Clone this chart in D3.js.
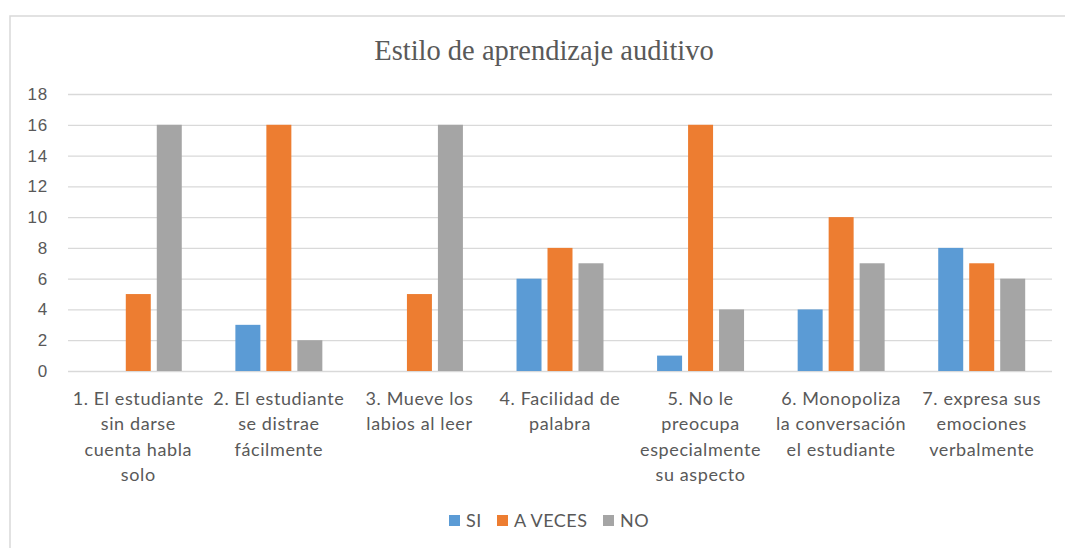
<!DOCTYPE html>
<html>
    <head>
        <meta charset="utf-8">
        <title>Estilo de aprendizaje auditivo</title>
        <style>
            html, body {
                margin: 0px;
                padding: 0px;
                background-color: #fff;
                font-family: Lato, "Open Sans", sans-serif;
            }

            svg text {
                fill: #595959;
            }

            .title {
                font-family: "Liberation Serif", "Times New Roman", serif;
                font-size: 28.5px;
            }

            .verticalAxis text {
                font-size: 17px;
                letter-spacing: 0.8px;
            }

            .verticalAxis .domain {
                stroke: none;
            }

            .verticalAxis line {
                stroke: #d9d9d9;
                stroke-width: 1.3;
            }

            .categoryLabel {
                font-size: 18px;
                letter-spacing: 0.6px;
            }

            .legend text {
                font-size: 18px;
                letter-spacing: 0.5px;
            }
        </style>
        <script src="https://cdn.jsdelivr.net/npm/d3@7"></script>
    </head>
    <body>
        <div id="main"></div>

        <script>
            var categories = [
                "1. El estudiante sin darse cuenta habla solo",
                "2. El estudiante se distrae fácilmente",
                "3. Mueve los labios al leer",
                "4. Facilidad de palabra",
                "5. No le preocupa especialmente su aspecto",
                "6. Monopoliza la conversación el estudiante",
                "7. expresa sus emociones verbalmente"
            ];
            // line breaks as they appear under the axis
            var categoryLines = [
                ["1. El estudiante", "sin darse", "cuenta habla", "solo"],
                ["2. El estudiante", "se distrae", "fácilmente"],
                ["3. Mueve los", "labios al leer"],
                ["4. Facilidad de", "palabra"],
                ["5. No le", "preocupa", "especialmente", "su aspecto"],
                ["6. Monopoliza", "la conversación", "el estudiante"],
                ["7. expresa sus", "emociones", "verbalmente"]
            ];
            var seriesNames = ["SI", "A VECES", "NO"];
            var siValues = [0, 3, 0, 6, 1, 4, 8];
            var aVecesValues = [5, 16, 5, 8, 16, 10, 7];
            var noValues = [16, 2, 16, 7, 4, 7, 6];
            var yTicks = [0, 2, 4, 6, 8, 10, 12, 14, 16, 18];
            var colors = ["#5b9bd5", "#ed7d31", "#a5a5a5"];

            var width = 1065;
            var height = 548;
            var plot = { left: 68, right: 1052, top: 94, bottom: 371 };

            function main() {
                var svg = d3.select("#main")
                            .append("svg")
                            .attr("width", width)
                            .attr("height", height);

                // chart frame, cut off at right and bottom like the screenshot
                svg.append("rect")
                    .attr("x", 10)
                    .attr("y", 16)
                    .attr("width", width + 20)
                    .attr("height", height + 20)
                    .attr("fill", "#fff")
                    .attr("stroke", "#d9d9d9")
                    .attr("stroke-width", 1.5);

                svg.append("text")
                    .attr("class", "title")
                    .attr("x", 544)
                    .attr("y", 60)
                    .style("text-anchor", "middle")
                    .text("Estilo de aprendizaje auditivo");

                var y = d3.scaleLinear()
                            .domain([0, 18])
                            .range([plot.bottom, plot.top]);

                var x0 = d3.scaleBand()
                            .domain(categories)
                            .range([plot.left, plot.right])
                            .padding(0);

                var x1 = d3.scaleBand()
                            .domain(seriesNames)
                            .range([0, x0.bandwidth()])
                            .paddingInner(0.1935)
                            .paddingOuter(0.865);

                svg.append("g")
                    .attr("class", "verticalAxis")
                    .attr("transform", "translate(" + plot.left + ",0)")
                    .call(d3.axisLeft(y)
                        .tickValues(yTicks)
                        .tickSize(-(plot.right - plot.left))
                        .tickPadding(20));

                var rows = categories.map(function(c, i) {
                    return { cat: c, values: [siValues[i], aVecesValues[i], noValues[i]] };
                });

                var group = svg.selectAll(".group")
                    .data(rows)
                    .enter()
                    .append("g")
                    .attr("class", "group")
                    .attr("transform", function(d) { return "translate(" + x0(d.cat) + ",0)"; });

                group.selectAll("rect")
                    .data(function(d) {
                        return d.values.map(function(v, j) { return { name: seriesNames[j], value: v, i: j }; });
                    })
                    .enter()
                    .append("rect")
                    .filter(function(d) { return d.value > 0; })
                    .attr("x", function(d) { return x1(d.name); })
                    .attr("y", function(d) { return y(d.value); })
                    .attr("width", x1.bandwidth())
                    .attr("height", function(d) { return y(0) - y(d.value); })
                    .attr("fill", function(d) { return colors[d.i]; });

                // category labels
                var labels = svg.selectAll(".categoryLabel")
                    .data(categories)
                    .enter()
                    .append("text")
                    .attr("class", "categoryLabel")
                    .style("text-anchor", "middle")
                    .attr("transform", function(d) {
                        return "translate(" + (x0(d) + x0.bandwidth() / 2) + "," + 405 + ")";
                    });

                labels.selectAll("tspan")
                    .data(function(d, i) { return categoryLines[i]; })
                    .enter()
                    .append("tspan")
                    .attr("x", 0)
                    .attr("y", function(d, i) { return i * 25.3; })
                    .text(function(d) { return d; });

                // legend
                var legend = svg.append("g").attr("class", "legend");
                var legendX = [449, 497, 603];
                seriesNames.forEach(function(name, i) {
                    legend.append("rect")
                        .attr("x", legendX[i])
                        .attr("y", 515)
                        .attr("width", 11)
                        .attr("height", 11)
                        .attr("fill", colors[i]);
                    legend.append("text")
                        .attr("x", legendX[i] + 17)
                        .attr("y", 527)
                        .text(name);
                });
            }

            main();
        </script>
    </body>
</html>
